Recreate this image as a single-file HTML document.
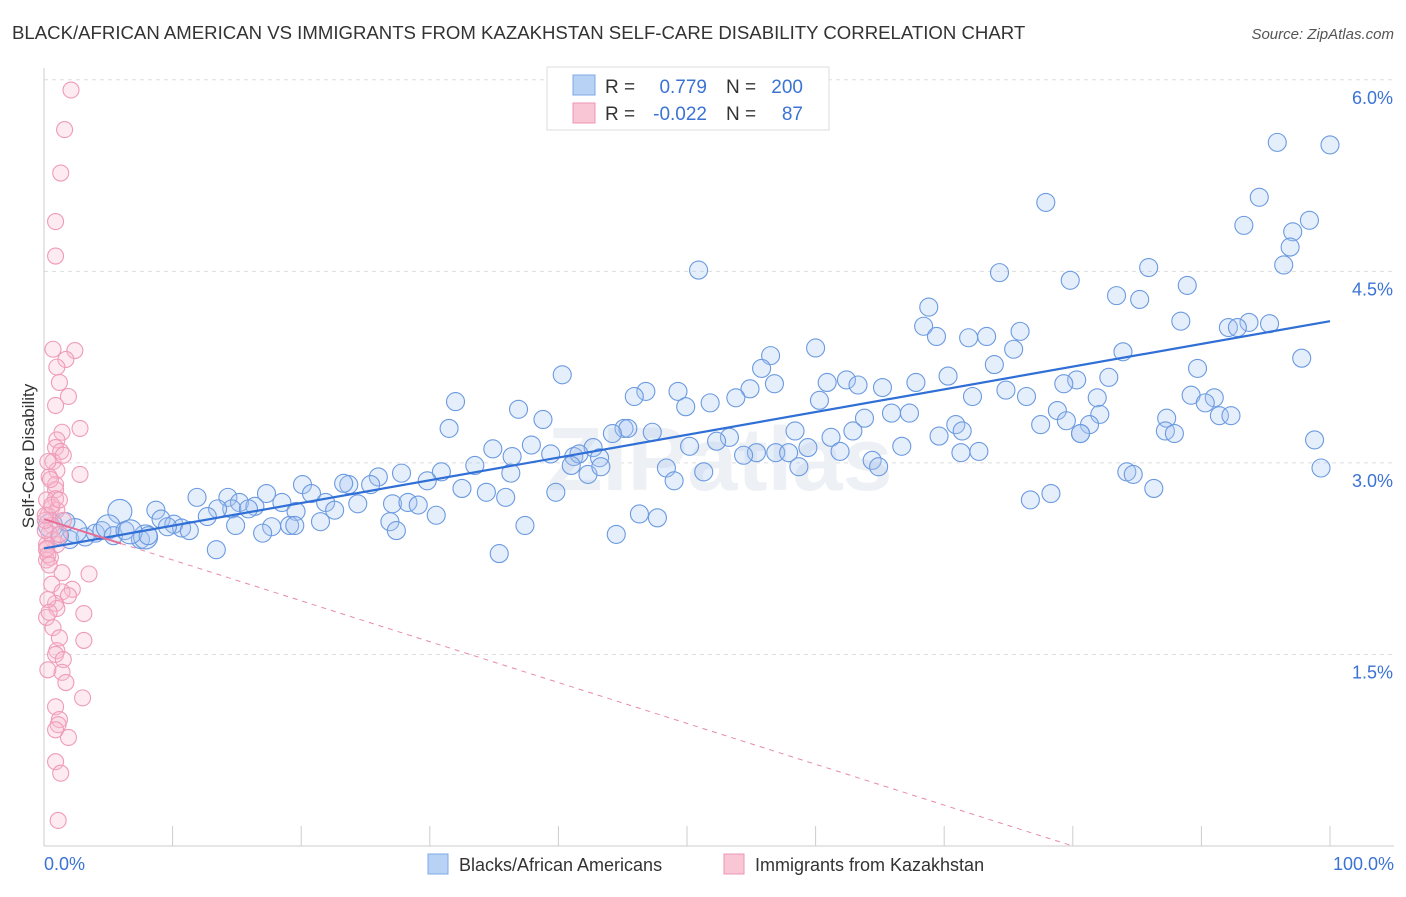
<!DOCTYPE html>
<html><head><meta charset="utf-8"><style>
body{margin:0;background:#fff;font-family:"Liberation Sans",sans-serif;}
svg text{font-family:"Liberation Sans",sans-serif;}
</style></head><body>
<svg width="1406" height="892" viewBox="0 0 1406 892">
<text x="12" y="39" font-size="18.6" fill="#333">BLACK/AFRICAN AMERICAN VS IMMIGRANTS FROM KAZAKHSTAN SELF-CARE DISABILITY CORRELATION CHART</text>
<text x="1394" y="39" font-size="15" fill="#555" text-anchor="end" font-style="italic">Source: ZipAtlas.com</text>
<g id="grid"></g>
<g id="ticks"></g>
<text x="720" y="490" font-size="90" font-weight="bold" fill="#edf0f5" text-anchor="middle">ZIPatlas</text>
<line x1="44" y1="68" x2="44" y2="846" stroke="#ccc"/>
<line x1="44" y1="846" x2="1394" y2="846" stroke="#ccc"/>
<g id="pts"></g>
<g id="lines"></g>
<g id="ylabels"></g>
<text x="34" y="456" font-size="17" fill="#333" text-anchor="middle" transform="rotate(-90 34 456)">Self-Care Disability</text>
<text x="44" y="870" font-size="18" fill="#3b73d4">0.0%</text>
<text x="1394" y="870" font-size="18" fill="#3b73d4" text-anchor="end">100.0%</text>
<g>
<rect x="547" y="67" width="282" height="63" fill="#fff" stroke="#ddd"/>
<rect x="573" y="75" width="22" height="20" fill="#b8d2f5" stroke="#7fa9e6"/>
<rect x="573" y="103" width="22" height="20" fill="#f9c6d5" stroke="#ee97b1"/>
<text x="605" y="93" font-size="19" fill="#333">R =</text>
<text x="707" y="93" font-size="19" fill="#3b73d4" text-anchor="end">0.779</text>
<text x="726" y="93" font-size="19" fill="#333">N =</text>
<text x="803" y="93" font-size="19" fill="#3b73d4" text-anchor="end">200</text>
<text x="605" y="120" font-size="19" fill="#333">R =</text>
<text x="707" y="120" font-size="19" fill="#3b73d4" text-anchor="end">-0.022</text>
<text x="726" y="120" font-size="19" fill="#333">N =</text>
<text x="803" y="120" font-size="19" fill="#3b73d4" text-anchor="end">87</text>
</g>
<g>
<rect x="428" y="854" width="20" height="20" fill="#b8d2f5" stroke="#7fa9e6"/>
<text x="459" y="871" font-size="18" fill="#333">Blacks/African Americans</text>
<rect x="724" y="854" width="20" height="20" fill="#f9c6d5" stroke="#ee97b1"/>
<text x="755" y="871" font-size="18" fill="#333">Immigrants from Kazakhstan</text>
</g>
</svg>
<script>
const yTicks=[1.5,3.0,4.5,6.0];
const yTickLabels=["1.5%","3.0%","4.5%","6.0%"];
const xTicks=[0,10,20,30,40,50,60,70,80,90,100];
const blueX=[95.9,100,77.9,94.5,93.3,98.4,97.1,96.9,96.4,50.9,74.3,85.9,79.8,88.9,83.4,85.2,68.8,88.4,93.7,92.1,92.8,95.3,68.4,75.9,69.4,71.9,73.3,75.4,60.0,56.5,83.9,97.8,73.9,55.8,40.3,89.7,70.3,60.9,62.4,67.8,63.3,65.2,82.8,80.3,79.3,56.8,54.9,49.3,46.8,45.9,74.8,72.2,76.4,81.9,60.3,89.2,91.0,90.3,32.0,53.8,51.8,36.9,49.9,78.8,82.1,65.9,67.3,63.8,91.4,92.3,87.3,79.5,81.3,38.8,70.9,77.5,80.6,31.5,45.1,45.4,47.3,58.4,87.2,87.9,80.6,53.3,52.3,44.2,61.2,62.9,69.6,71.4,34.9,37.9,42.7,50.2,59.4,66.7,72.7,98.8,56.9,55.4,39.4,41.2,41.6,43.2,36.4,54.4,57.9,61.9,64.4,64.9,71.3,41.0,42.3,43.3,48.4,51.3,58.7,33.5,30.9,27.8,26.0,36.3,99.3,49.0,84.2,84.7,86.3,32.5,34.4,23.7,25.4,29.8,35.9,39.8,20.1,17.3,20.8,23.3,11.9,14.3,15.2,16.4,18.5,19.6,21.9,22.6,24.4,27.1,28.3,29.1,30.5,26.9,14.6,15.9,13.5,76.7,78.3,5.9,8.7,9.1,12.7,14.9,10.1,10.7,11.3,17.7,19.1,21.5,19.5,27.4,37.4,46.3,47.7,44.5,35.4,13.4,17.0,7.5,7.9,2.0,3.2,2.4,4.0,4.5,5.0,5.4,6.3,6.7,1.2,1.7,0.5,8.1,9.6];
const blueY=[5.51,5.49,5.04,5.08,4.86,4.90,4.81,4.69,4.55,4.51,4.49,4.53,4.43,4.39,4.31,4.28,4.22,4.11,4.10,4.06,4.06,4.09,4.07,4.03,3.99,3.98,3.99,3.89,3.90,3.84,3.87,3.82,3.77,3.74,3.69,3.74,3.68,3.63,3.65,3.63,3.61,3.59,3.67,3.65,3.62,3.62,3.58,3.56,3.56,3.52,3.57,3.52,3.52,3.51,3.49,3.53,3.51,3.47,3.48,3.51,3.47,3.42,3.44,3.41,3.38,3.39,3.39,3.35,3.37,3.37,3.35,3.33,3.30,3.34,3.30,3.30,3.23,3.27,3.27,3.27,3.24,3.25,3.25,3.23,3.23,3.20,3.17,3.23,3.20,3.25,3.21,3.25,3.11,3.14,3.12,3.13,3.12,3.13,3.09,3.18,3.08,3.08,3.07,3.05,3.07,3.04,3.05,3.06,3.08,3.09,3.02,2.97,3.08,2.98,2.91,2.97,2.96,2.93,2.97,2.98,2.93,2.92,2.89,2.92,2.96,2.86,2.93,2.91,2.80,2.80,2.77,2.83,2.83,2.86,2.73,2.77,2.83,2.76,2.76,2.84,2.73,2.73,2.69,2.66,2.69,2.62,2.69,2.63,2.68,2.68,2.69,2.67,2.59,2.54,2.64,2.64,2.64,2.71,2.76,2.62,2.63,2.56,2.58,2.51,2.52,2.49,2.47,2.50,2.51,2.54,2.51,2.47,2.51,2.60,2.57,2.44,2.29,2.32,2.45,2.40,2.42,2.40,2.42,2.47,2.45,2.47,2.50,2.43,2.47,2.46,2.43,2.54,2.51,2.43,2.50];
const pinkX=[2.1,1.6,1.3,0.9,0.9,0.7,2.4,1.7,1.0,1.2,1.9,0.9,2.8,1.4,1.0,0.9,1.3,0.7,1.0,2.8,0.4,0.9,0.9,0.9,0.6,1.0,0.3,1.5,0.6,0.4,0.7,1.0,0.2,0.5,0.2,1.4,3.5,0.6,2.2,1.4,1.9,0.9,1.0,3.1,0.2,0.7,1.2,3.1,1.0,0.9,1.5,1.4,1.7,3.0,0.9,1.2,1.1,1.9,0.9,1.3,1.1,0.2,0.1,0.1,0.1,0.2,0.6,1.2,0.2,0.3,0.4,1.2,0.5,0.3,1.5,0.3,0.4,0.3,0.9];
const pinkY=[5.92,5.61,5.27,4.89,4.62,3.89,3.88,3.81,3.75,3.63,3.52,3.45,3.27,3.24,3.18,3.12,3.09,3.01,2.94,2.91,2.89,2.83,2.79,2.72,2.65,2.63,2.59,2.55,2.51,2.45,2.40,2.36,2.32,2.26,2.24,2.14,2.13,2.05,2.01,1.99,1.96,1.90,1.86,1.82,1.79,1.71,1.63,1.61,1.53,1.50,1.46,1.36,1.28,1.16,1.09,0.99,0.95,0.85,0.66,0.57,0.20,2.36,2.47,2.55,2.59,2.71,2.67,2.44,2.33,2.28,2.20,2.71,2.87,3.01,3.06,1.93,1.83,1.38,0.91];
const blueTrend=[2.33,4.11];
const pinkTrend=[2.56,-0.032];

const NS="http://www.w3.org/2000/svg";
const xs=v=>44+v*12.86;
const ys=v=>846-v*127.7;
function mk(tag,attrs,parent){const e=document.createElementNS(NS,tag);for(const k in attrs)e.setAttribute(k,attrs[k]);document.getElementById(parent).appendChild(e);return e;}
yTicks.forEach((t,i)=>{
  const l=mk('line',{x1:44,x2:1394,y1:ys(t),y2:ys(t),stroke:'#ddd','stroke-dasharray':'4,4'},'grid');
  
  
  const tx=mk('text',{x:1393,y:ys(t)+24,'font-size':18,fill:'#3b73d4','text-anchor':'end'},'ylabels');
  tx.textContent=yTickLabels[i];
  
  
});
xTicks.forEach(t=>{
  const l=mk('line',{x1:xs(t),x2:xs(t),y1:826,y2:846,stroke:'#ccc'},'ticks');
  
  
});
blueX.forEach((x,i)=>{
  const r=(x<10&&i%3==0)?12:9;
  const c=mk('circle',{cx:xs(x),cy:ys(blueY[i]),r:r,fill:'rgba(170,200,242,0.3)',stroke:'#6b9ae0','stroke-width':1.1},'pts');
  
  
});
pinkX.forEach((x,i)=>{
  const c=mk('circle',{cx:xs(x),cy:ys(pinkY[i]),r:8,fill:'rgba(248,190,208,0.3)',stroke:'#ef9bb8','stroke-width':1.1},'pts');
  
  
});
const bl=mk('line',{x1:xs(0),y1:ys(blueTrend[0]),x2:xs(100),y2:ys(blueTrend[1]),stroke:'#2f6fd6','stroke-width':2.2},'lines');


const pe=-pinkTrend[0]/pinkTrend[1];
const ps=mk('line',{x1:xs(0),y1:ys(pinkTrend[0]),x2:xs(6),y2:ys(pinkTrend[0]+pinkTrend[1]*6),stroke:'#e66d95','stroke-width':2},'lines');


const pd=mk('line',{x1:xs(6),y1:ys(pinkTrend[0]+pinkTrend[1]*6),x2:xs(pe),y2:ys(0),stroke:'#e88aa9','stroke-width':1,'stroke-dasharray':'5,5'},'lines');


</script>
</body></html>
